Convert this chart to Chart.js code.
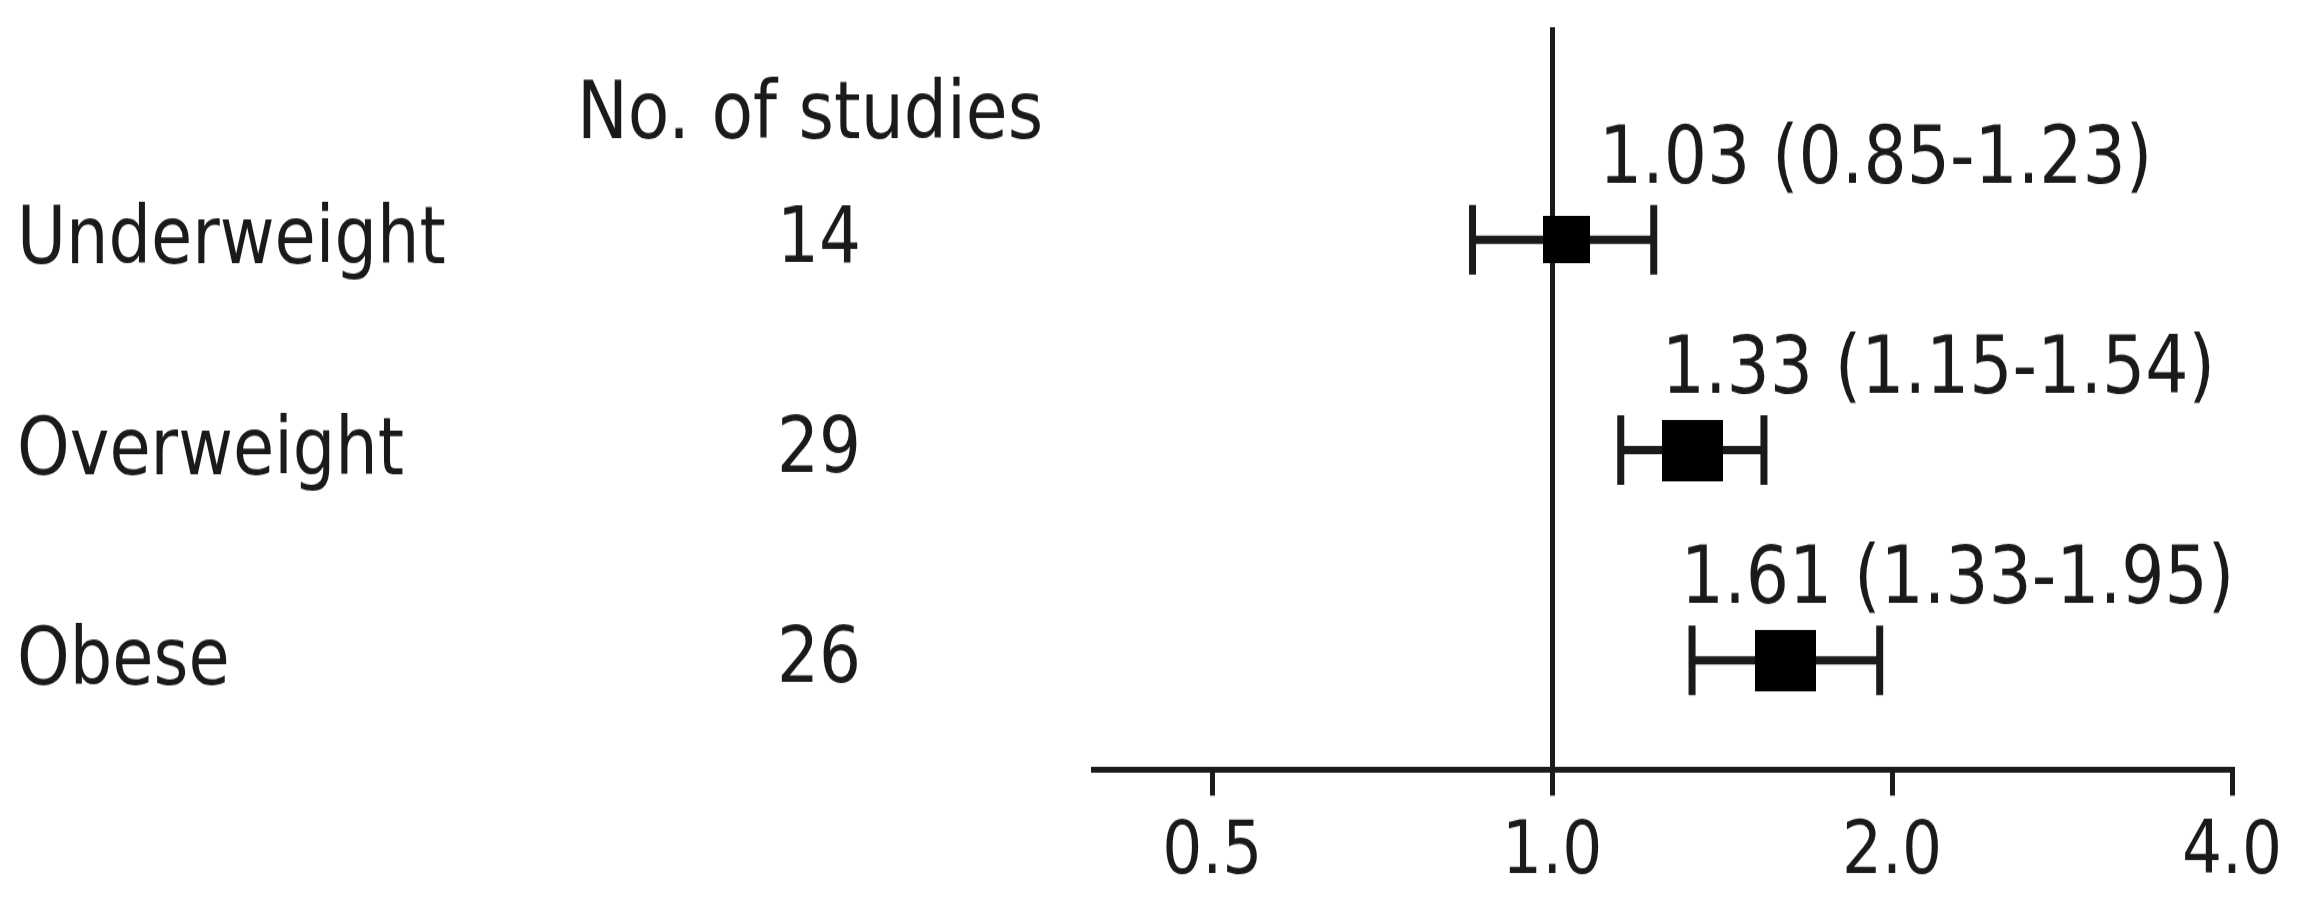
<!DOCTYPE html>
<html>
<head>
<meta charset="utf-8">
<script src="https://cdn.jsdelivr.net/npm/chart.js@4.4.1/dist/chart.umd.min.js"></script>
<style>
  html, body { margin: 0; padding: 0; background: #fff; }
  body { width: 2313px; height: 906px; }
  /* the reference text is taller than it is wide, so the canvas is drawn short and stretched */
  #wrap { width: 2313px; height: 768px; transform: scaleY(1.1797); transform-origin: 0 0; }
</style>
</head>
<body>
<div id="wrap"><canvas id="forest" width="2313" height="768"></canvas></div>
<script>
// data
const rowNames = ['Underweight', 'Overweight', 'Obese'];
const studyCounts = [14, 29, 26];
const oddsRatio = [1.03, 1.33, 1.61];
const ciLow = [0.85, 1.15, 1.33];
const ciHigh = [1.23, 1.54, 1.95];
const xTicks = [0.5, 1.0, 2.0, 4.0];

const STRETCH = 1.1797;
const INK = '#1a1a1a';
const FONT = '"DejaVu Sans", sans-serif';

// where each "OR (CI)" label starts, in axis units
const labelAt = [1.10, 1.25, 1.30];
const markerSide = [47, 61, 61];

function squareStyle(side) {
  const c = document.createElement('canvas');
  c.width = side;
  c.height = Math.round(side / STRETCH);
  const g = c.getContext('2d');
  g.fillStyle = '#000';
  g.fillRect(0, 0, c.width, c.height);
  return c;
}

// row names, study counts and the OR labels
const tableText = {
  id: 'tableText',
  afterDraw(chart) {
    const ctx = chart.ctx;
    const x = chart.scales.x;
    const y = chart.scales.y;
    ctx.save();
    ctx.fillStyle = INK;
    ctx.textBaseline = 'alphabetic';

    ctx.font = '68px ' + FONT;
    ctx.textAlign = 'center';
    ctx.fillText('No. of studies', 810, 117);

    rowNames.forEach((name, i) => {
      const py = y.getPixelForValue(i + 1);
      ctx.font = '67px ' + FONT;
      ctx.textAlign = 'left';
      ctx.fillText(name, 17, py + 20);

      ctx.font = '66px ' + FONT;
      ctx.textAlign = 'center';
      ctx.fillText(String(studyCounts[i]), 819, py + 18.5);

      ctx.font = '68px ' + FONT;
      ctx.textAlign = 'left';
      const txt = oddsRatio[i].toFixed(2) + ' (' + ciLow[i].toFixed(2) + '-' + ciHigh[i].toFixed(2) + ')';
      ctx.fillText(txt, x.getPixelForValue(labelAt[i]), py - 48.5);
    });
    ctx.restore();
  }
};

const whiskers = rowNames.map((name, i) => ({
  type: 'line',
  label: name + ' CI',
  data: [{x: ciLow[i], y: i + 1}, {x: ciHigh[i], y: i + 1}],
  borderColor: INK,
  borderWidth: 7,
  pointStyle: 'line',
  pointRotation: 90,
  pointRadius: 29.5,
  pointBorderWidth: 7,
  pointBorderColor: INK,
  order: 2
}));

const estimates = {
  type: 'scatter',
  label: 'Odds ratio',
  data: oddsRatio.map((v, i) => ({x: v, y: i + 1})),
  pointStyle: markerSide.map(s => squareStyle(s)),
  pointRadius: 30,
  order: 1
};

new Chart(document.getElementById('forest'), {
  type: 'scatter',
  data: { datasets: [estimates, ...whiskers] },
  options: {
    responsive: false,
    animation: false,
    layout: { autoPadding: false, padding: { left: 1093, right: 81, top: 23, bottom: -5 } },
    plugins: { legend: { display: false }, tooltip: { enabled: false } },
    scales: {
      x: {
        type: 'logarithmic',
        position: 'bottom',
        min: 0.392,
        max: 4,
        afterBuildTicks: scale => { scale.ticks = xTicks.map(v => ({ value: v })); },
        grid: {
          color: c => (c.tick && c.tick.value === 1 ? INK : 'rgba(0,0,0,0)'),
          lineWidth: 5,
          tickColor: INK,
          tickLength: 22,
          tickWidth: 5
        },
        border: { display: true, color: INK, width: 5 },
        ticks: {
          color: INK,
          padding: 11.5,
          maxRotation: 0,
          autoSkip: false,
          font: { family: FONT, size: 63, lineHeight: 1.2 },
          callback: v => Number(v).toFixed(1)
        }
      },
      y: {
        type: 'linear',
        display: false,
        reverse: true,
        min: -0.012,
        max: 3.52
      }
    }
  },
  plugins: [tableText]
});
</script>
</body>
</html>
